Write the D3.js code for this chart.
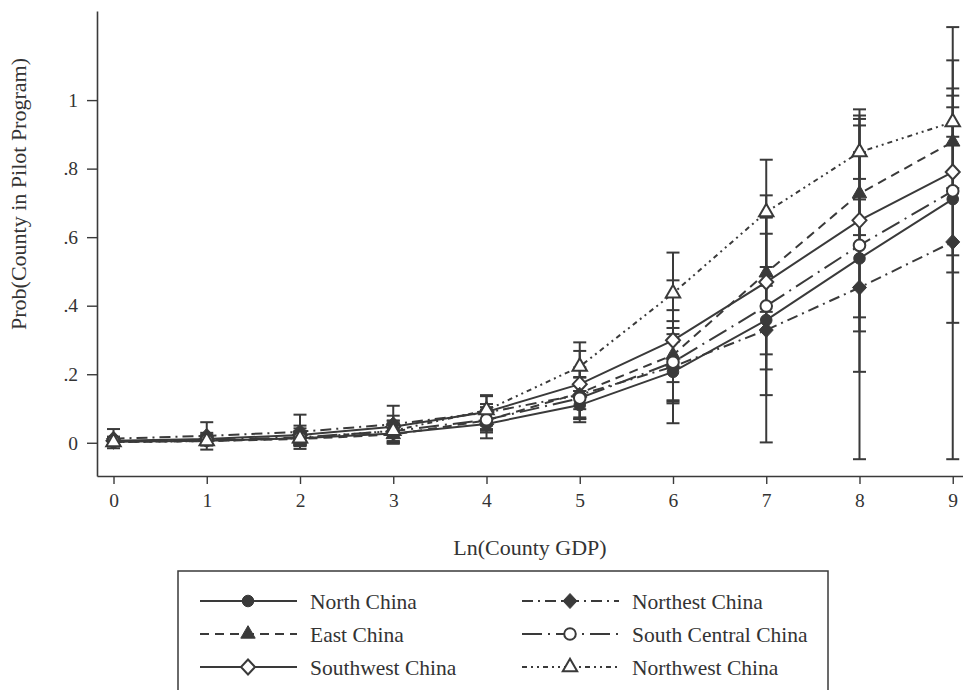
<!DOCTYPE html>
<html>
<head>
<meta charset="utf-8">
<script src="https://cdn.jsdelivr.net/npm/d3@7"></script>
<style>
  body { margin: 0; background: #fff; }
  svg text { font-family: "Liberation Serif", "DejaVu Serif", serif; fill: #333; }
</style>
</head>
<body>
<div id="chart"></div>
<script>
// x values: Ln(County GDP)
const gdp = [0, 1, 2, 3, 4, 5, 6, 7, 8, 9];

// predicted probability and CI bounds
const northMean = [0.003, 0.006, 0.013, 0.027, 0.055, 0.110, 0.207, 0.358, 0.538, 0.711];
const northLo   = [-0.004, -0.006, -0.008, -0.003, 0.013, 0.069, 0.120, 0.258, 0.366, 0.497];
const northHi   = [0.010, 0.018, 0.034, 0.057, 0.097, 0.151, 0.294, 0.458, 0.710, 0.925];

const eastMean = [0.002, 0.005, 0.011, 0.024, 0.065, 0.145, 0.256, 0.496, 0.727, 0.878];
const eastLo   = [-0.003, -0.004, -0.006, 0.000, 0.035, 0.098, 0.177, 0.382, 0.606, 0.743];
const eastHi   = [0.007, 0.014, 0.028, 0.048, 0.095, 0.192, 0.335, 0.610, 0.848, 1.013];

const southwestMean = [0.006, 0.011, 0.023, 0.047, 0.090, 0.171, 0.299, 0.469, 0.649, 0.790];
const southwestLo   = [-0.006, -0.007, -0.004, 0.015, 0.067, 0.074, 0.124, 0.214, 0.325, 0.547];
const southwestHi   = [0.018, 0.029, 0.050, 0.079, 0.113, 0.268, 0.474, 0.722, 0.973, 1.034];

const northeastMean = [0.012, 0.020, 0.032, 0.054, 0.088, 0.140, 0.222, 0.329, 0.453, 0.586];
const northeastLo   = [-0.016, -0.020, -0.018, 0.000, 0.040, 0.060, 0.057, 0.001, -0.048, -0.048];
const northeastHi   = [0.040, 0.060, 0.082, 0.108, 0.136, 0.220, 0.387, 0.657, 0.955, 1.213];

const southCentralMean = [0.004, 0.008, 0.016, 0.034, 0.067, 0.130, 0.235, 0.399, 0.576, 0.735];
const southCentralLo   = [-0.006, -0.008, -0.010, 0.004, 0.030, 0.070, 0.115, 0.139, 0.207, 0.350];
const southCentralHi   = [0.014, 0.024, 0.042, 0.064, 0.104, 0.190, 0.355, 0.659, 0.945, 1.116];

const northwestMean = [0.002, 0.005, 0.013, 0.035, 0.095, 0.222, 0.436, 0.673, 0.848, 0.936];
const northwestLo   = [-0.004, -0.006, -0.006, 0.005, 0.050, 0.151, 0.317, 0.513, 0.770, 0.893];
const northwestHi   = [0.008, 0.016, 0.032, 0.065, 0.139, 0.293, 0.555, 0.826, 0.926, 0.979];

const yTicks = [0, 0.2, 0.4, 0.6, 0.8, 1];
const yTickLabels = ["0", ".2", ".4", ".6", ".8", "1"];

const series = [
  { name: "North China",         mean: northMean,        lo: northLo,        hi: northHi,        dash: null,          marker: "circle",   fill: true },
  { name: "East China",          mean: eastMean,         lo: eastLo,         hi: eastHi,         dash: "9,6",         marker: "triangle", fill: true },
  { name: "Southwest China",     mean: southwestMean,    lo: southwestLo,    hi: southwestHi,    dash: null,          marker: "diamond",  fill: false },
  { name: "Northest China",      mean: northeastMean,    lo: northeastLo,    hi: northeastHi,    dash: "11,5,2,5",    marker: "diamond",  fill: true },
  { name: "South Central China", mean: southCentralMean, lo: southCentralLo, hi: southCentralHi, dash: "20,6,2,6",    marker: "circle",   fill: false },
  { name: "Northwest China",     mean: northwestMean,    lo: northwestLo,    hi: northwestHi,    dash: "5,4,2,4,2,4", marker: "triangle", fill: false }
];

const W = 963, H = 690;
const ink = "#3a3a3a";

const svg = d3.select("#chart").append("svg")
  .attr("width", W).attr("height", H);

const x = d3.scaleLinear().domain([-0.177, 9.11]).range([97, 963]);
const y = d3.scaleLinear().domain([-0.097, 1.26]).range([476, 11]);

// axes
const xAxis = svg.append("g")
  .attr("transform", `translate(0,${y(-0.097)})`)
  .call(d3.axisBottom(x).tickValues(gdp).tickFormat(d3.format("d")).tickSize(8).tickPadding(9).tickSizeOuter(0));
const yAxis = svg.append("g")
  .attr("transform", `translate(${x(-0.177)},0)`)
  .call(d3.axisLeft(y).tickValues(yTicks).tickFormat((d, i) => yTickLabels[i]).tickSize(10).tickPadding(9).tickSizeOuter(0));

[xAxis, yAxis].forEach(g => {
  g.select(".domain").attr("stroke", ink).attr("stroke-width", 1.6);
  g.selectAll(".tick line").attr("stroke", ink).attr("stroke-width", 1.4);
  g.selectAll(".tick text").attr("font-size", 19.5).attr("fill", "#333")
    .attr("font-family", "Liberation Serif, DejaVu Serif, serif");
});

svg.append("text")
  .attr("x", 530).attr("y", 555)
  .attr("text-anchor", "middle")
  .attr("font-size", 22)
  .text("Ln(County GDP)");

svg.append("text")
  .attr("transform", `translate(26,${194}) rotate(-90)`)
  .attr("text-anchor", "middle")
  .attr("font-size", 22)
  .text("Prob(County in Pilot Program)");

// marker shapes
function markerPath(type) {
  if (type === "circle") return d3.symbol().type(d3.symbolCircle).size(105)();
  if (type === "triangle") return d3.symbol().type(d3.symbolTriangle).size(90)();
  return "M0,-7.5L7,0L0,7.5L-7,0Z";
}

function drawMarker(g, s, cx, cy) {
  g.append("path")
    .attr("d", markerPath(s.marker))
    .attr("transform", `translate(${cx},${cy})`)
    .attr("fill", s.fill ? ink : "#fff")
    .attr("stroke", ink)
    .attr("stroke-width", s.fill ? 1 : 2);
}

const plot = svg.append("g");

// error bars
series.forEach(s => {
  const g = plot.append("g");
  gdp.forEach((gx, i) => {
    const cx = x(gx);
    g.append("line")
      .attr("x1", cx).attr("x2", cx)
      .attr("y1", y(s.lo[i])).attr("y2", y(s.hi[i]))
      .attr("stroke", ink).attr("stroke-width", 2);
    [s.lo[i], s.hi[i]].forEach(v => {
      g.append("line")
        .attr("x1", cx - 6.5).attr("x2", cx + 6.5)
        .attr("y1", y(v)).attr("y2", y(v))
        .attr("stroke", ink).attr("stroke-width", 2);
    });
  });
});

// lines
const line = d3.line().x((d, i) => x(gdp[i])).y(d => y(d));
series.forEach(s => {
  plot.append("path")
    .datum(s.mean)
    .attr("d", line)
    .attr("fill", "none")
    .attr("stroke", ink)
    .attr("stroke-width", 2)
    .attr("stroke-dasharray", s.dash);
});

// markers
series.forEach(s => {
  const g = plot.append("g");
  s.mean.forEach((v, i) => drawMarker(g, s, x(gdp[i]), y(v)));
});

// legend
const legend = svg.append("g");
legend.append("rect")
  .attr("x", 178).attr("y", 571)
  .attr("width", 650).attr("height", 140)
  .attr("fill", "#fff")
  .attr("stroke", ink).attr("stroke-width", 1.5);

series.forEach((s, i) => {
  const col = i < 3 ? 0 : 1;
  const row = i % 3;
  const x0 = col === 0 ? 200 : 522;
  const ly = 601 + row * 33;
  const g = legend.append("g");
  g.append("line")
    .attr("x1", x0).attr("x2", x0 + 97)
    .attr("y1", ly).attr("y2", ly)
    .attr("stroke", ink).attr("stroke-width", 2)
    .attr("stroke-dasharray", s.dash);
  drawMarker(g, s, x0 + 48, ly);
  g.append("text")
    .attr("x", x0 + 110).attr("y", ly)
    .attr("dy", "0.35em")
    .attr("font-size", 21.5)
    .text(s.name);
});
</script>
</body>
</html>
